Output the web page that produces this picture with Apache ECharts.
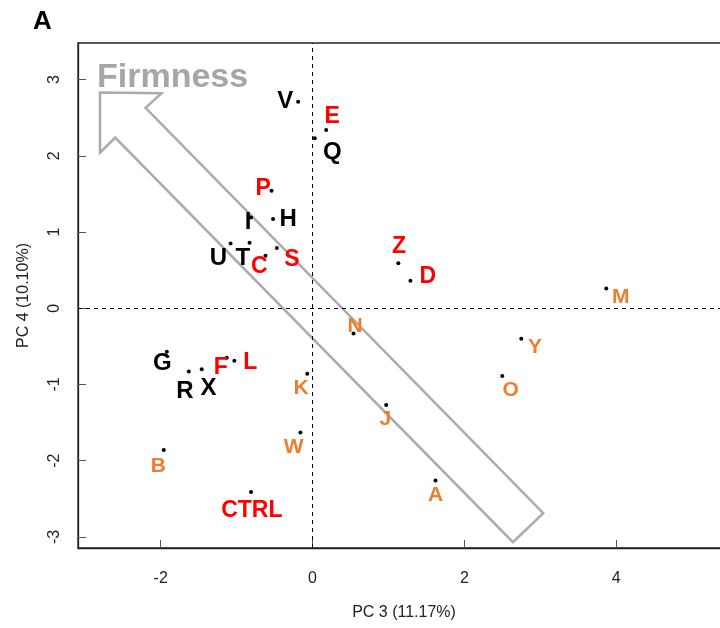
<!DOCTYPE html>
<html><head><meta charset="utf-8">
<script src="https://cdn.jsdelivr.net/npm/echarts@6/dist/echarts.min.js"></script>
<style>html,body{margin:0;padding:0;background:#fff}#c{width:720px;height:628px}</style>
</head><body><div id="c"></div>
<script>
// ---- data ----
const names    = ['V','E','Q','P','H','I','U','T','C','S','G','R','X','F','L','K','N','J','W','Z','D','M','Y','O','B','A','CTRL'];
const groups   = ['k','r','k','r','k','k','k','k','r','r','k','k','k','r','r','o','o','o','o','r','r','o','o','o','o','o','r'];
const pc3      = [-0.19,0.18,0.03,-0.54,-0.52,-0.81,-1.08,-0.83,-0.62,-0.47,-1.92,-1.63,-1.46,-1.13,-1.03,-0.07,0.54,0.97,-0.16,1.13,1.29,3.87,2.75,2.50,-1.96,1.62,-0.81];
const pc4      = [2.71,2.34,2.23,1.54,1.17,1.19,0.85,0.86,0.69,0.79,-0.57,-0.83,-0.80,-0.65,-0.69,-0.86,-0.33,-1.27,-1.63,0.59,0.36,0.26,-0.40,-0.89,-1.86,-2.26,-2.41];
const labelPc3 = [-0.36,0.26,0.26,-0.65,-0.32,-0.85,-1.24,-0.92,-0.70,-0.27,-1.98,-1.68,-1.37,-1.21,-0.82,-0.15,0.56,0.96,-0.25,1.14,1.52,4.06,2.93,2.61,-2.03,1.62,-0.80];
const labelPc4 = [2.72,2.52,2.05,1.57,1.17,1.12,0.65,0.65,0.54,0.64,-0.72,-1.09,-1.05,-0.78,-0.71,-1.05,-0.24,-1.46,-1.82,0.81,0.41,0.15,-0.51,-1.08,-2.07,-2.45,-2.66];
const arrowPc3 = [-2.80,-1.99,-2.20,3.04,2.64,-2.60,-2.80];
const arrowPc4 = [2.83,2.82,2.63,-2.69,-3.07,2.24,2.04];
const arrowText = 'Firmness';
const arrowTextPos = [-2.84, 3.03];
const xTicks = [-2,0,2,4];
const yTicks = [-3,-2,-1,0,1,2,3];
const xTitle = 'PC 3 (11.17%)';
const yTitle = 'PC 4 (10.10%)';
const panel = 'A';

// ---- styles ----
const FONT = '"Liberation Sans", Arial, sans-serif';
const groupStyle = {
  k: {color:'#000000', size:24},
  r: {color:'#ff0000', size:23},
  o: {color:'#ed7d31', size:21}
};

const chart = echarts.init(document.getElementById('c'), null, {renderer:'canvas'});

const labelSeries = Object.keys(groupStyle).map(g => ({
  type:'scatter',
  symbolSize:0,
  silent:true,
  z:5,
  itemStyle:{opacity:1},
  data: names.map((n,i)=>({name:n, value:[labelPc3[i], labelPc4[i]], g:groups[i]})).filter(d=>d.g===g),
  label:{show:true, position:'inside', formatter:p=>p.name, opacity:1,
    color:groupStyle[g].color, fontSize:groupStyle[g].size, fontWeight:'bold', fontFamily:FONT},
  emphasis:{disabled:true}
}));

const axisCommon = {
  axisLine:{show:true, onZero:false, lineStyle:{color:'#222', width:1.3}},
  splitLine:{show:false}
};

const option = {
  animation:false,
  backgroundColor:'#ffffff',
  title:{text:panel, left:28, top:4, textStyle:{fontSize:26, fontWeight:'bold', color:'#000', fontFamily:FONT}},
  grid:{left:78, top:43, width:652, height:505, containLabel:false, outerBoundsMode:'none',
    show:true, borderColor:'#222', borderWidth:1.3, backgroundColor:'transparent'},
  xAxis:Object.assign({type:'value', position:'bottom', min:-3.09, max:5.5,
    name:xTitle, nameLocation:'middle', nameGap:57,
    nameTextStyle:{fontSize:16, color:'#222', fontFamily:FONT},
    axisTick:{show:true, inside:true, length:8, lineStyle:{color:'#555'}, customValues:xTicks},
    axisLabel:{fontSize:16, color:'#222', fontFamily:FONT, margin:23, customValues:xTicks}}, axisCommon),
  yAxis:Object.assign({type:'value', position:'left', min:-3.146, max:3.48,
    name:yTitle, nameLocation:'middle', nameGap:46,
    nameTextStyle:{fontSize:16, color:'#222', fontFamily:FONT},
    axisTick:{show:true, inside:true, length:8, lineStyle:{color:'#555'}, customValues:yTicks},
    axisLabel:{fontSize:16, color:'#222', fontFamily:FONT, margin:15, rotate:90, customValues:yTicks}}, axisCommon),
  series:[
    {
      type:'custom', silent:true, z:1,
      data: arrowPc3.map((x,i)=>[x, arrowPc4[i]]),
      renderItem:(params, api)=>{
        if (params.dataIndex !== 0) return null;
        const pts = arrowPc3.map((x,i)=>api.coord([x, arrowPc4[i]]));
        const tp = api.coord(arrowTextPos);
        return {type:'group', children:[
          {type:'polygon', shape:{points:pts}, style:{fill:'none', stroke:'#ababab', lineWidth:2.5, lineJoin:'miter'}},
          {type:'text', x:tp[0], y:tp[1], style:{text:arrowText, fill:'#a6a6a6', font:'bold 34px '+FONT, align:'left', verticalAlign:'middle'}}
        ]};
      }
    },
    {
      type:'scatter', symbolSize:4, silent:true, z:4,
      itemStyle:{color:'#000', opacity:1},
      data: names.map((n,i)=>({name:n, value:[pc3[i], pc4[i]]})),
      markLine:{silent:true, symbol:'none', label:{show:false},
        lineStyle:{color:'#000', type:[4,4], width:1},
        data:[{xAxis:0},{yAxis:0}]},
      emphasis:{disabled:true}
    },
    ...labelSeries
  ]
};
chart.setOption(option);
</script>
</body></html>
